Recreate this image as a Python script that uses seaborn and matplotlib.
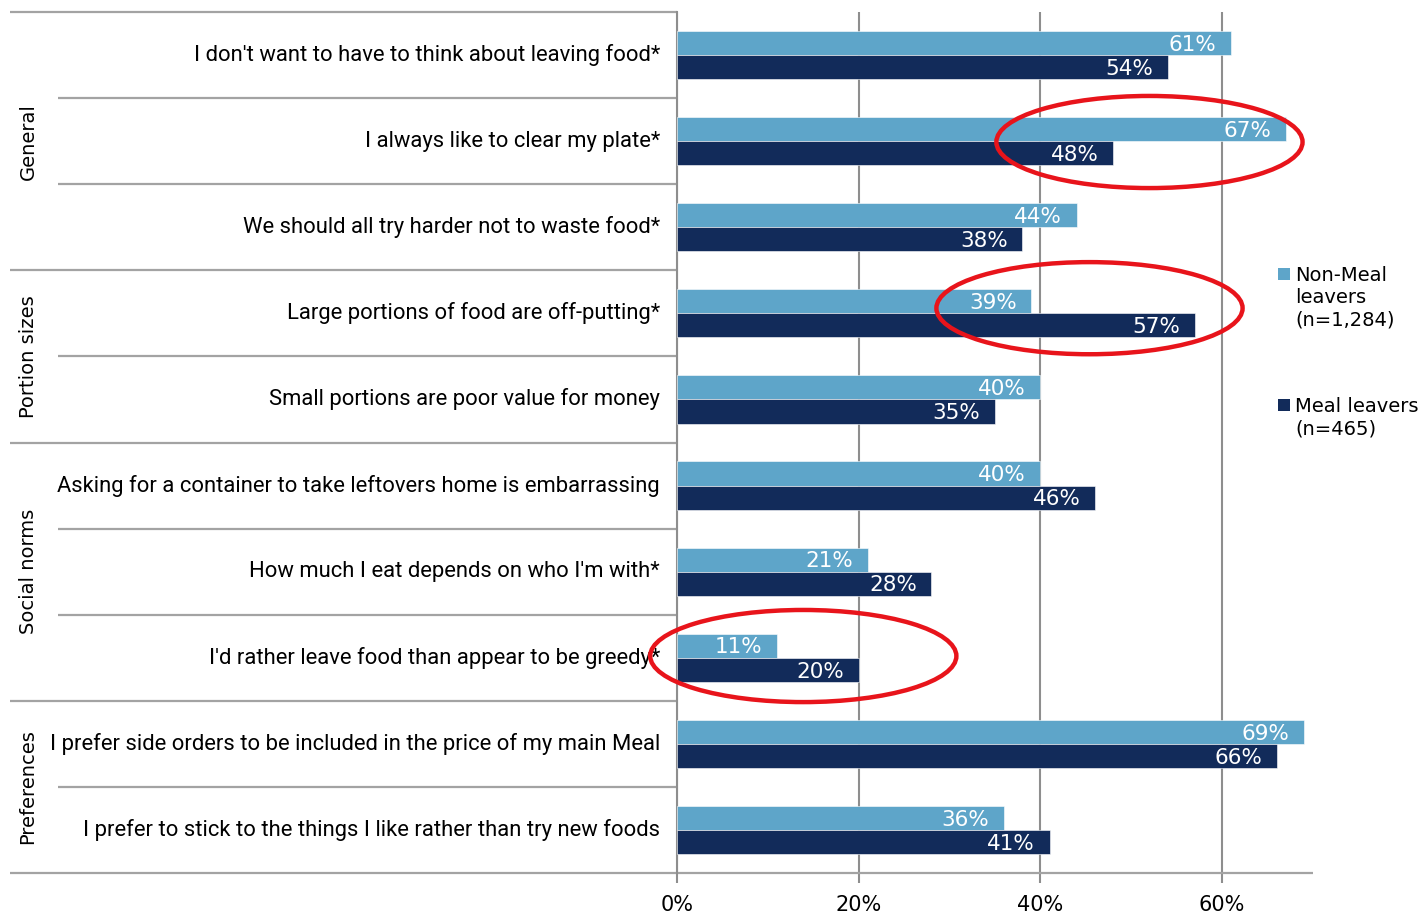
import matplotlib
matplotlib.use("Agg")
import matplotlib.pyplot as plt
from matplotlib.patches import Ellipse, Rectangle
import seaborn as sns
import pandas as pd

# Survey statements, grouped by theme
statements = [
    "I don't want to have to think about leaving food*",
    "I always like to clear my plate*",
    "We should all try harder not to waste food*",
    "Large portions of food are off-putting*",
    "Small portions are poor value for money",
    "Asking for a container to take leftovers home is embarrassing",
    "How much I eat depends on who I'm with*",
    "I'd rather leave food than appear to be greedy*",
    "I prefer side orders to be included in the price of my main Meal",
    "I prefer to stick to the things I like rather than try new foods",
]
groups = ["General", "Portion sizes", "Social norms", "Preferences"]
group_sizes = [3, 2, 3, 2]

non_meal_leavers = [61, 67, 44, 39, 40, 40, 21, 11, 69, 36]
meal_leavers = [54, 48, 38, 57, 35, 46, 28, 20, 66, 41]

series_names = ["Non-Meal leavers", "Meal leavers"]
legend_labels = ["Non-Meal\nleavers\n(n=1,284)", "Meal leavers\n(n=465)"]
x_ticks = [0, 20, 40, 60]

LIGHT = "#5EA5C9"
DARK = "#122B5A"
GRID = "#8E8E8E"
RULE = "#A3A3A3"

df = pd.DataFrame({
    "statement": statements * 2,
    "series": [series_names[0]] * len(statements) + [series_names[1]] * len(statements),
    "value": non_meal_leavers + meal_leavers,
})

sns.set_style("white")
plt.rcParams["font.family"] = ["DejaVu Sans"]
plt.rcParams["text.color"] = "black"
plt.rcParams["xtick.color"] = "black"

W, H = 1418, 915
fig = plt.figure(figsize=(W / 100, H / 100), dpi=100)
ax_left, ax_right, ax_top, ax_bottom = 677, 1313, 12, 873
ax = fig.add_axes([ax_left / W, 1 - ax_bottom / H,
                   (ax_right - ax_left) / W, (ax_bottom - ax_top) / H])

sns.barplot(data=df, y="statement", x="value", hue="series", order=statements,
            hue_order=series_names, palette=[LIGHT, DARK], saturation=1,
            width=0.56, orient="h", legend=False, ax=ax, edgecolor="white",
            linewidth=0.4, zorder=3)

n = len(statements)
ax.set_xlim(0, 70)
ax.set_ylim(n - 0.5, -0.5)
ax.set_xticks(x_ticks)
ax.set_xticklabels([f"{t}%" for t in x_ticks], fontsize=15)
ax.set_yticks([])
ax.set_xlabel("")
ax.set_ylabel("")
ax.xaxis.grid(True, color=GRID, linewidth=1.5, zorder=0)
ax.tick_params(axis="x", length=7, width=1.5, color=GRID, labelcolor="black",
               pad=9, bottom=True)
for side in ["top", "right", "bottom"]:
    ax.spines[side].set_visible(False)
ax.spines["left"].set_color(GRID)
ax.spines["left"].set_linewidth(1.5)

# Value labels inside the end of each bar
for container in ax.containers:
    for patch in container:
        v = patch.get_width()
        yc = patch.get_y() + patch.get_height() / 2
        ax.text(v - 1.6, yc + 0.02, f"{v:.0f}%", ha="right", va="center",
                color="white", fontsize=15.5, zorder=4)

# Table rules on the left
ytr = ax.get_yaxis_transform()
px = lambda x: (x - ax_left) / (ax_right - ax_left)
outer_x = px(10)
inner_x = px(58)
bounds = [-0.5]
for s in group_sizes:
    bounds.append(bounds[-1] + s)
for b in bounds[:-1]:
    ax.plot([outer_x, 0], [b, b], transform=ytr, color=RULE, lw=1.6,
            clip_on=False, solid_capstyle="butt")
ax.plot([outer_x, 1], [bounds[-1], bounds[-1]], transform=ytr, color=RULE,
        lw=1.6, clip_on=False, solid_capstyle="butt")
for i in range(1, n):
    b = i - 0.5
    if b not in bounds:
        ax.plot([inner_x, 0], [b, b], transform=ytr, color=RULE, lw=1.6,
                clip_on=False, solid_capstyle="butt")

# Statement labels
label_x = px(660)
for i, s in enumerate(statements):
    ax.text(label_x, i, s, transform=ytr, ha="right", va="center",
            fontsize=15.8, family=["Roboto", "DejaVu Sans"])

# Group labels
gx = px(28)
for g, a, b in zip(groups, bounds[:-1], bounds[1:]):
    ax.text(gx, (a + b) / 2, g, transform=ytr, rotation=90, ha="center",
            va="center", fontsize=14)

# Highlight rings
for cx, cy, w in [(52.0, 1.01, 33.7), (45.4, 2.94, 33.7), (13.9, 6.98, 33.7)]:
    ax.add_patch(Ellipse((cx, cy), w, 1.07, fill=False, edgecolor="#E8141B",
                         linewidth=3.2, clip_on=False, zorder=6))

# Legend
for (top_px, lab, col) in [(268, legend_labels[0], LIGHT), (399, legend_labels[1], DARK)]:
    fig.patches.append(Rectangle((1278 / W, 1 - (top_px + 12) / H), 12 / W, 12 / H,
                                 transform=fig.transFigure, facecolor=col,
                                 edgecolor="none"))
    fig.text(1295 / W, 1 - (top_px - 2) / H, lab, ha="left", va="top",
             fontsize=14, linespacing=1.22)

fig.savefig("out.png", dpi=100)
